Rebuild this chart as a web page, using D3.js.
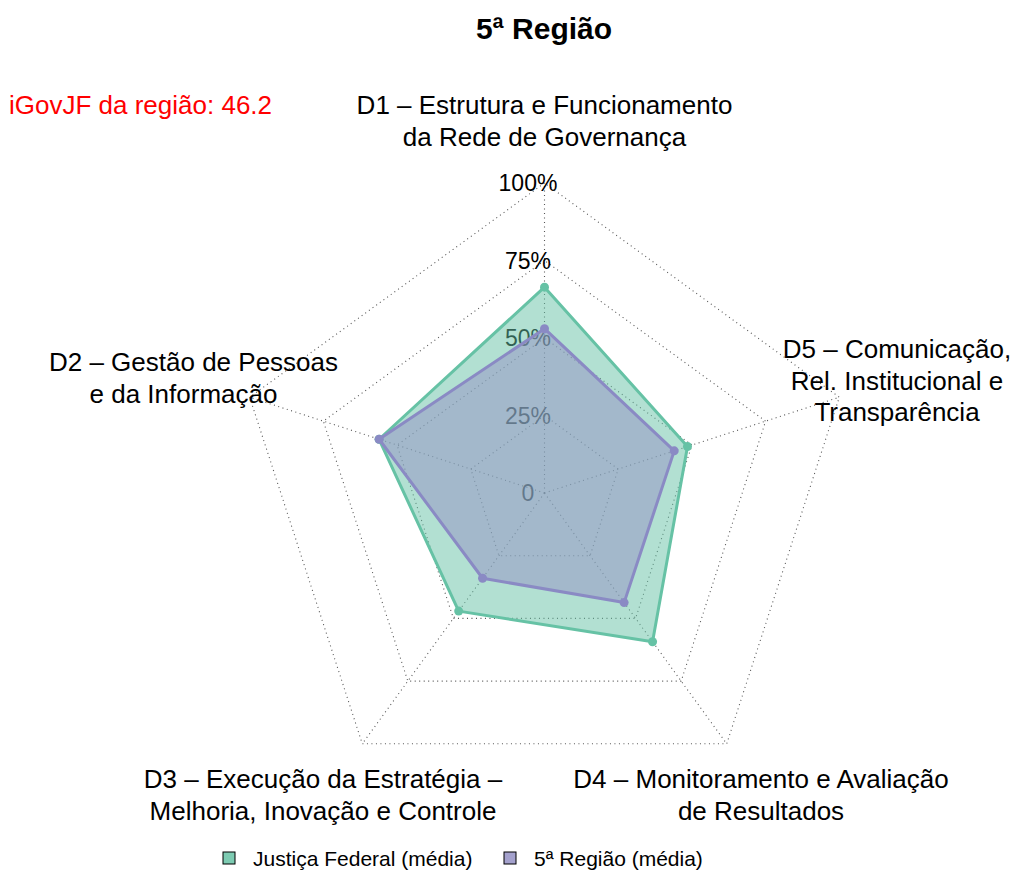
<!DOCTYPE html>
<html><head><meta charset="utf-8">
<script src="https://cdn.jsdelivr.net/npm/d3@7"></script>
<style>body{margin:0;background:#fff;} svg{display:block;font-family:"Liberation Sans",Arial,sans-serif;}</style>
</head><body>
<script>
const axes = ["D1","D2","D3","D4","D5"];
const axisLabels = [
  ["D1 – Estrutura e Funcionamento","da Rede de Governança"],
  ["D2 – Gestão de Pessoas","e da Informação"],
  ["D3 – Execução da Estratégia –","Melhoria, Inovação e Controle"],
  ["D4 – Monitoramento e Avaliação","de Resultados"],
  ["D5 – Comunicação,","Rel. Institucional e","Transparência"]
];
const seriesNames = ["Justiça Federal (média)","5ª Região (média)"];
const justicaFederal = [0.664, 0.561, 0.471, 0.593, 0.485];
const regiao5 = [0.530, 0.561, 0.340, 0.437, 0.440];
const gridLevels = [0.25, 0.5, 0.75, 1];
const tickValues = [0, 0.25, 0.5, 0.75, 1];
const tickLabels = ["0","25%","50%","75%","100%"];
const title = "5ª Região";
const indexText = "iGovJF da região: 46.2";

const W = 1014, H = 871, cx = 544.5, cy = 493;
const colors = ["#66C2A5", "#9490C4"];
const strokeCols = ["#66C2A5", "#8A8AC4"];

const svg = d3.select("body").append("svg").attr("width", W).attr("height", H);
const r = d3.scaleLinear().domain([0,1]).range([0,310]);
const ang = d3.scaleLinear().domain([0, axes.length]).range([Math.PI/2, Math.PI/2 + 2*Math.PI]);
const pt = (i, v) => [cx + r(v)*Math.cos(ang(i)), cy - r(v)*Math.sin(ang(i))];

// grid
const line = d3.line();
gridLevels.forEach(l => {
  svg.append("path").attr("d", line(axes.map((a,i)=>pt(i,l))) + "Z")
    .attr("fill","none").attr("stroke","#555").attr("stroke-width",1.1).attr("stroke-dasharray","1,3.5");
});
axes.forEach((a,i) => {
  const p = pt(i,1);
  svg.append("line").attr("x1",cx).attr("y1",cy).attr("x2",p[0]).attr("y2",p[1])
    .attr("stroke","#555").attr("stroke-width",1.1).attr("stroke-dasharray","1,3.5");
});

// tick labels
tickValues.forEach((t,k) => {
  svg.append("text").attr("x", cx - 16.5).attr("y", cy - r(t)).attr("dy","0.36em")
    .attr("text-anchor","middle").attr("font-size",23).attr("fill","#000").text(tickLabels[k]);
});

// polygons
[justicaFederal, regiao5].forEach((vals, s) => {
  const pts = vals.map((v,i)=>pt(i,v));
  svg.append("path").attr("d", line(pts)+"Z")
    .attr("fill", colors[s]).attr("fill-opacity",0.5)
    .attr("stroke", strokeCols[s]).attr("stroke-width",3).attr("stroke-linejoin","round");
  svg.selectAll(null).data(pts).enter().append("circle")
    .attr("cx",d=>d[0]).attr("cy",d=>d[1]).attr("r",4.5).attr("fill",strokeCols[s]);
});

// axis labels
const labelPos = [[544.5,114],[193.5,371],[323,788],[761,788],[897,358]];
const lineGap = 31.5;
axisLabels.forEach((lines,i) => {
  const t = svg.append("text").attr("font-size",26).attr("text-anchor","middle").attr("fill","#000");
  lines.forEach((s,j) => {
    let x = labelPos[i][0];
    if (i===1 && j===1) x = 183.5;
    t.append("tspan").attr("x", x).attr("y", labelPos[i][1] + j*lineGap).text(s);
  });
});

// title & index
svg.append("text").attr("x", 544).attr("y", 39).attr("text-anchor","middle")
  .attr("font-size",30).attr("font-weight","bold").text(title);
svg.append("text").attr("x", 9).attr("y", 114).attr("font-size",26).attr("fill","#ff0000").text(indexText);

// legend
const lx = [229, 510];
seriesNames.forEach((n,s) => {
  svg.append("rect").attr("x", lx[s]-6).attr("y", 852).attr("width",12).attr("height",12)
    .attr("fill", colors[s]).attr("fill-opacity",0.85).attr("stroke","#000").attr("stroke-width",1);
  svg.append("text").attr("x", lx[s]+24).attr("y", 865.5).attr("font-size",21).text(n);
});
</script>
</body></html>
